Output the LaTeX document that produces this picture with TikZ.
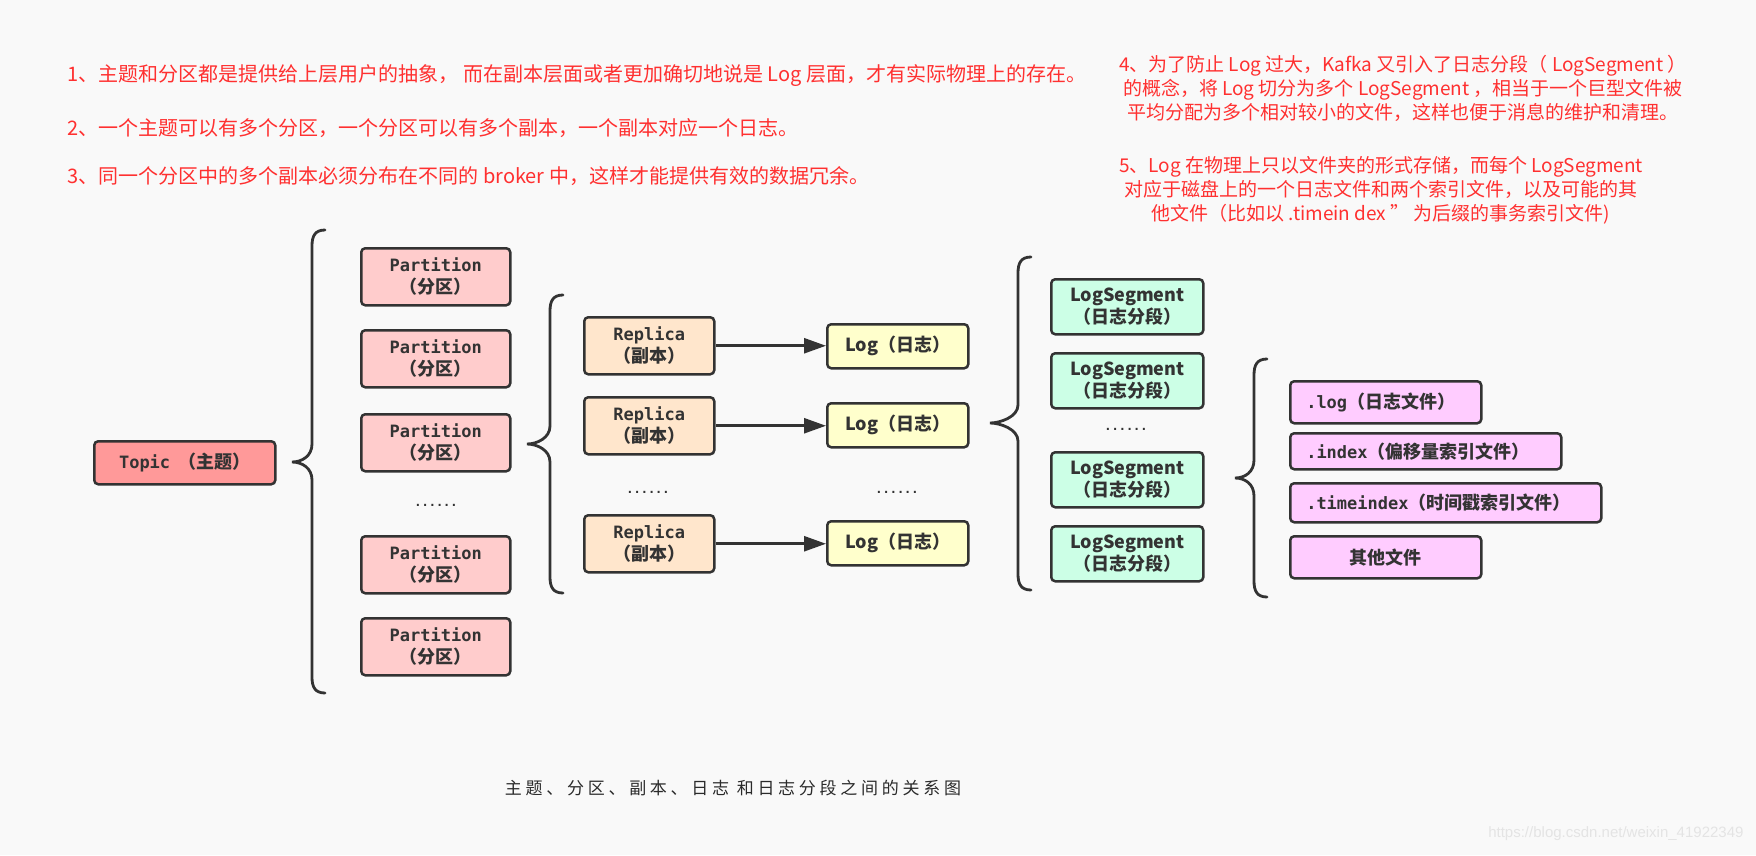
\documentclass[tikz,border=0pt]{standalone}
\usepackage{fontspec}
\setmainfont{Noto Sans CJK SC}
\setmonofont{DejaVu Sans Mono}
\newfontfamily\wmfont{Liberation Sans}
\usetikzlibrary{arrows.meta}
\definecolor{bgc}{HTML}{F9F9F9}
\definecolor{redc}{HTML}{FF3030}
\definecolor{linec}{HTML}{333333}
\definecolor{topicc}{HTML}{FF9999}
\definecolor{partc}{HTML}{FFCCCC}
\definecolor{repc}{HTML}{FFE6CC}
\definecolor{logc}{HTML}{FFFFCC}
\definecolor{segc}{HTML}{CCFFE6}
\definecolor{filec}{HTML}{FFCCFF}
\definecolor{capc}{HTML}{2A2A2A}
\definecolor{wmc}{HTML}{E4E4E4}
\newcommand{\drawbrace}[5]{%
  \draw[bracestyle] ({#1+13},#3) .. controls ({#1+3},#3) and (#1,{#3+6}) .. (#1,{#3+16})
    -- (#1,{#4-18}) .. controls (#1,{#4-6}) and ({#2+10},#4) .. (#2,#4)
    .. controls ({#2+10},#4) and (#1,{#4+6}) .. (#1,{#4+18})
    -- (#1,{#5-16}) .. controls (#1,{#5-6}) and ({#1+3},#5) .. ({#1+13},#5);}
\begin{document}
\begin{tikzpicture}[x=1pt,y=-1pt,
  box/.style={draw=linec, line width=2.5pt, rounded corners=4pt, inner sep=0pt,
    align=center, anchor=north west, text=linec,
    font=\fontsize{18}{22}\selectfont\bfseries},
  pbox/.style={box, fill=partc, minimum width=149pt, minimum height=57pt},
  rbox/.style={box, fill=repc, minimum width=130pt, minimum height=57pt},
  lbox/.style={box, fill=logc, minimum width=141pt, minimum height=44pt},
  sbox/.style={box, fill=segc, minimum width=152pt, minimum height=55pt},
  fbox/.style={box, fill=filec, align=left, inner xsep=16pt},
  dotsnode/.style={anchor=base, text=linec, font=\fontsize{12}{12}\selectfont\ttfamily\bfseries},
  bracestyle/.style={draw=linec, line width=2.8pt, line cap=round},
  arr/.style={draw=linec, line width=2.6pt, -{Triangle[length=22pt,width=15pt]}},
  redtext/.style={text=redc, font=\fontsize{20}{24}\selectfont},
  redtextr/.style={text=redc, font=\fontsize{19}{24}\selectfont, align=center},
]
\useasboundingbox (0,0) rectangle (1756,855);
\fill[bgc] (0,0) rectangle (1756,855);

% notes
\node[redtext, anchor=west] (n1) at (64,76) {1、主题和分区都是提供给上层用户的抽象， 而在副本层面或者更加确切地说是 Log 层面，才有实际物理上的存在。};
\node[redtext, anchor=west] (n2) at (64,128) {2、一个主题可以有多个分区，一个分区可以有多个副本，一个副本对应一个日志。};
\node[redtext, anchor=west] (n3) at (64,176) {3、同一个分区中的多个副本必须分布在不同的 broker 中，这样才能提供有效的数据冗余。};
\node[redtextr] (n4) at (1403,88) {4、为了防止 Log 过大，Kafka 又引入了日志分段（ LogSegment ）\\的概念，将 Log 切分为多个 LogSegment ，相当于一个巨型文件被\\平均分配为多个相对较小的文件，这样也便于消息的维护和清理。};
\node[redtextr] (n5) at (1381,190) {5、Log 在物理上只以文件夹的形式存储，而每个 LogSegment\\对应于磁盘上的一个日志文件和两个索引文件，以及可能的其\\他文件（比如以 .timein dex ” 为后缀的事务索引文件)};

% topic
\node[box, fill=topicc, minimum width=181pt, minimum height=43pt] (topic) at (93,440) {{\ttfamily\fontsize{17}{22}\selectfont Topic}\ \ （主题）};

% partitions
\node[pbox] (p1) at (360,247) {{\ttfamily\fontsize{17}{22}\selectfont Partition}\\（分区）};
\node[pbox] (p2) at (360,329) {{\ttfamily\fontsize{17}{22}\selectfont Partition}\\（分区）};
\node[pbox] (p3) at (360,413) {{\ttfamily\fontsize{17}{22}\selectfont Partition}\\（分区）};
\node[dotsnode] (pd) at (436,506) {......};
\node[pbox] (p4) at (360,535) {{\ttfamily\fontsize{17}{22}\selectfont Partition}\\（分区）};
\node[pbox] (p5) at (360,617) {{\ttfamily\fontsize{17}{22}\selectfont Partition}\\（分区）};

% replicas
\node[rbox] (r1) at (583,316) {{\ttfamily\fontsize{17}{22}\selectfont Replica}\\（副本）};
\node[rbox] (r2) at (583,396) {{\ttfamily\fontsize{17}{22}\selectfont Replica}\\（副本）};
\node[dotsnode] (rd) at (648,493) {......};
\node[rbox] (r3) at (583,514) {{\ttfamily\fontsize{17}{22}\selectfont Replica}\\（副本）};

% logs
\node[lbox] (l1) at (826,323) {Log（日志）};
\node[lbox] (l2) at (826,402) {Log（日志）};
\node[dotsnode] (ld) at (897,493) {......};
\node[lbox] (l3) at (826,520) {Log（日志）};

\draw[arr] (r1.east) -- (r1.east -| l1.west);
\draw[arr] (r2.east) -- (r2.east -| l2.west);
\draw[arr] (r3.east) -- (r3.east -| l3.west);

% log segments
\node[sbox] (s1) at (1050,278) {LogSegment\\（日志分段）};
\node[sbox] (s2) at (1050,352) {LogSegment\\（日志分段）};
\node[dotsnode] (sd) at (1126,430) {......};
\node[sbox] (s3) at (1050,451) {LogSegment\\（日志分段）};
\node[sbox] (s4) at (1050,525) {LogSegment\\（日志分段）};

% files
\node[fbox, text width=159pt, minimum height=42pt] (f1) at (1289,380) {{\ttfamily\fontsize{17}{22}\selectfont .log}（日志文件）};
\node[fbox, text width=239pt, minimum height=36pt] (f2) at (1289,432) {{\ttfamily\fontsize{17}{22}\selectfont .index}（偏移量索引文件）};
\node[fbox, text width=279pt, minimum height=39pt] (f3) at (1289,482) {{\ttfamily\fontsize{17}{22}\selectfont .timeindex}（时间戳索引文件）};
\node[box, fill=filec, minimum width=191pt, minimum height=42pt] (f4) at (1289,535) {其他文件};

% braces
\drawbrace{312}{292}{230}{462}{693}
\drawbrace{550}{527}{295}{444}{593}
\drawbrace{1018}{990}{257}{423}{590}
\drawbrace{1254}{1235}{359}{478}{597}

% caption
\node[text=capc, font=\fontsize{17}{20}\selectfont\addfontfeature{LetterSpace=22}] (cap) at (733,788) {主题、分区、副本、日志 和日志分段之间的关系图};
\node[anchor=east, text=wmc, font=\wmfont\fontsize{15}{18}\selectfont] (wm) at (1747,834) {https://blog.csdn.net/weixin\_41922349};
\end{tikzpicture}
\end{document}
